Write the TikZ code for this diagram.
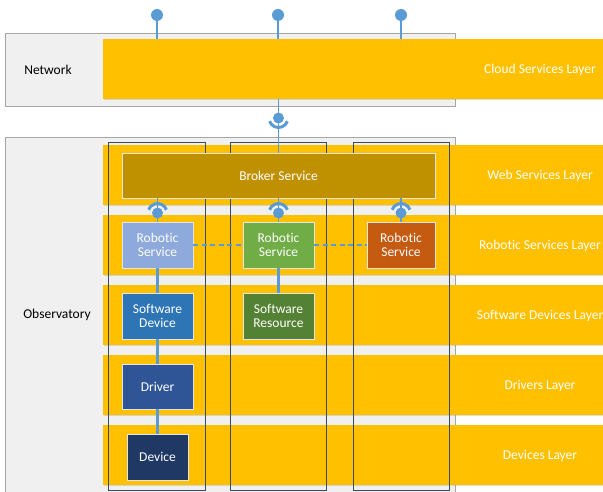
\documentclass[tikz,border=0pt]{standalone}
\usepackage{fontspec}
\setmainfont{Carlito}[Ligatures={NoCommon}]
\usetikzlibrary{positioning,shadows}

\definecolor{layerorange}{HTML}{FFC000}
\definecolor{zonegrey}{HTML}{F0F0F0}
\definecolor{zoneline}{HTML}{A6A6A6}
\definecolor{colline}{HTML}{3B4A63}
\definecolor{wire}{HTML}{5B9BD5}
\definecolor{brokergold}{HTML}{BF9000}
\definecolor{rsblue}{HTML}{8EA9DB}
\definecolor{rsgreen}{HTML}{70AD47}
\definecolor{rsorange}{HTML}{C55A11}
\definecolor{swblue}{HTML}{2E75B6}
\definecolor{swgreen}{HTML}{548235}
\definecolor{drvblue}{HTML}{2F5597}
\definecolor{devblue}{HTML}{1F3864}

\begin{document}
\begin{tikzpicture}[x=1pt,y=-1pt ,node distance =70pt and 121pt ,on grid ,
font=\fontsize{13.5}{14.5}\selectfont,
zone/.style ={ rectangle ,fill=zonegrey ,draw=zoneline ,line width=1.2pt},
layer/.style ={ rectangle ,fill=layerorange ,minimum width=500pt ,minimum height=60pt ,
  inner sep=0pt ,drop shadow={opacity=.25 ,shadow xshift=.8pt ,shadow yshift=-1.2pt}},
lbl/.style ={ text=white ,anchor=center},
column/.style ={ rectangle ,draw=colline ,line width=1pt ,minimum width=97pt ,minimum height=347pt},
unit/.style ={ rectangle ,draw=white!80!gray ,line width=.8pt ,text=white ,align=center ,
  minimum width=71pt ,minimum height=46pt ,inner sep=1pt ,
  drop shadow={opacity=.25 ,shadow xshift=.8pt ,shadow yshift=-1.2pt}},
link/.style ={ wire ,line width=2.5pt},
ball/.style ={ circle ,fill=wire ,inner sep=0pt ,minimum size=11pt},
socket/.style ={ wire ,line width=3pt}]

\clip (0,0) rectangle (603,492);

% zones
\node[zone ,minimum width=450pt ,minimum height=73pt ,anchor=north west] (network) at (5,33) {};
\node[zone ,minimum width=450pt ,minimum height=370pt ,anchor=north west] (observatory) at (5,137) {};
\node (netlbl) at (48,70) {Network};
\node (obslbl) at (57,315) {Observatory};

% layers
\node[layer] (cloud) at (353,69) {};
\node[layer] (web) at (353,175) {};
\node[layer] (rsvc) at (353,245) {};
\node[layer] (sdev) at (353,315) {};
\node[layer] (drvl) at (353,385) {};
\node[layer] (devl) at (353,455) {};
\node[lbl] (cloudlbl) at (540,70) {Cloud Services Layer};
\node[lbl] (weblbl) at (540,176) {Web Services Layer};
\node[lbl] (rsvclbl) at (540,246) {Robotic Services Layer};
\node[lbl] (sdevlbl) at (540,316) {Software Devices Layer};
\node[lbl] (drvllbl) at (540,386) {Drivers Layer};
\node[lbl] (devllbl) at (540,456) {Devices Layer};

% columns
\node[column] (colA) at (156.5,316.5) {};
\node[column ,minimum width=96pt] (colB) at (278,316.5) {};
\node[column ,minimum width=96pt] (colC) at (401,316.5) {};

% services and devices
\node[unit ,fill=brokergold ,minimum width=313pt ,minimum height=45pt] (broker) at (278.5,175.5) {Broker Service};
\node[unit ,fill=rsblue] (svcA) at (157.5,245) {Robotic\\Service};
\node[unit ,fill=rsgreen] (svcB) [right=of svcA] {Robotic\\Service};
\node[unit ,fill=rsorange ,minimum width=68pt] (svcC) [right=122.5pt of svcB] {Robotic\\Service};
\node[unit ,fill=swblue] (swdev) [below=71pt of svcA] {Software\\Device};
\node[unit ,fill=swgreen] (swres) [below=71pt of svcB] {Software\\Resource};
\node[unit ,fill=drvblue ,minimum height=45pt] (driver) [below=70.5pt of swdev] {Driver};
\node[unit ,fill=devblue ,minimum width=61pt] (device) [below=70.5pt of driver] {Device};

% connectors
\draw[link] (svcA) -- (swdev);
\draw[link] (swdev) -- (driver);
\draw[link] (driver) -- (device);
\draw[link] (svcB) -- (swres);
\draw[wire ,line width=2pt ,dash pattern=on 5pt off 3.5pt] (svcA) -- (svcB);
\draw[wire ,line width=2pt ,dash pattern=on 5pt off 3.5pt] (svcB) -- (svcC);
\draw[link ,line width=1.5pt] (broker.south -| svcA) -- (svcA);
\draw[link ,line width=1.5pt] (broker.south -| svcB) -- (svcB);
\draw[link ,line width=1.5pt] (broker.south -| svcC) -- (svcC);
\draw[link ,line width=1.5pt] (cloud.south -| broker) -- (broker);

% lollipops on the cloud layer
\node[ball ,minimum size=12pt] (topA) at (157,15) {};
\node[ball ,minimum size=12pt] (topB) at (278,15) {};
\node[ball ,minimum size=12pt] (topC) at (401,15) {};
\draw[wire ,line width=1.5pt] (topA) -- (cloud.north -| topA);
\draw[wire ,line width=1.5pt] (topB) -- (cloud.north -| topB);
\draw[wire ,line width=1.5pt] (topC) -- (cloud.north -| topC);

% sockets
\node[ball] (netball) at (278.5,118) {};
\draw[socket] ([shift={(200:9.5pt)}]netball.center) arc[start angle=200 ,end angle=340 ,radius=9.5pt];
\node[ball] (sockA) at (157.5,213) {};
\node[ball] (sockB) at (278.5,213) {};
\node[ball] (sockC) at (401,213) {};
\foreach \s in {sockA,sockB,sockC}
  \draw[socket] ([shift={(20:9.5pt)}]\s.center) arc[start angle=20 ,end angle=160 ,radius=9.5pt];
\end{tikzpicture}
\end{document}
